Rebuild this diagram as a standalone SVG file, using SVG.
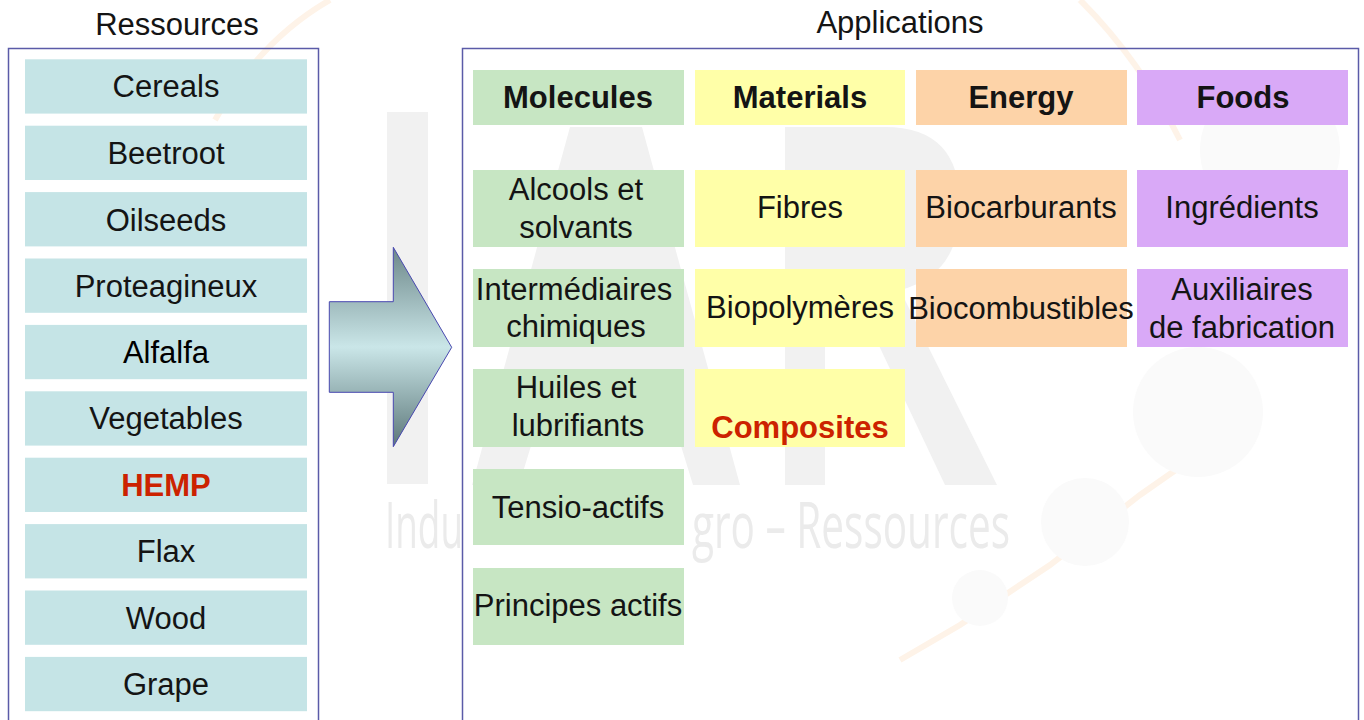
<svg xmlns="http://www.w3.org/2000/svg" width="1364" height="720" viewBox="0 0 1364 720">
<defs>
<linearGradient id="arrowGrad" gradientUnits="userSpaceOnUse" x1="0" y1="247" x2="0" y2="447">
<stop offset="0" stop-color="#6c8789"/>
<stop offset="0.5" stop-color="#cae6e8"/>
<stop offset="1" stop-color="#5c7779"/>
</linearGradient>
<style>
.t{font-family:"Liberation Sans",Arial,sans-serif;fill:#141414;text-anchor:middle;font-size:31px}
.b{font-weight:bold}
.red{fill:#cc2200}
.res{fill:#c5e4e6}
.mol{fill:#c7e6c3}
.mat{fill:#ffffa8}
.ene{fill:#fdd3a8}
.foo{fill:#d9a9f7}
.frame{fill:none;stroke:#5b5ba8;stroke-width:1.5}
.wm{fill:#f1f1f1}
.wt{font-family:"Open Sans","DejaVu Sans",sans-serif;font-size:64px;fill:#ebebeb}
.orl{fill:none;stroke:#fef3e8;stroke-width:6}
.gc{fill:#fafafa}
</style>
</defs>
<rect width="1364" height="720" fill="#ffffff"/>

<g id="watermark">
<path class="orl" d="M215 120 Q260 40 330 0"/>
<path class="orl" d="M1080 0 Q1140 60 1180 140"/>
<path class="orl" d="M900 660 L960 625 L1050 565 L1140 495 L1190 460"/>
<circle class="gc" cx="1085" cy="522" r="44"/>
<circle class="gc" cx="980" cy="598" r="28"/>
<circle class="gc" cx="1270" cy="150" r="70"/>
<circle class="gc" cx="1198" cy="412" r="65"/>
<rect class="wm" x="387" y="112" width="41" height="372"/>
<polygon class="wm" points="570,127 642,127 740,485 693,485 670,410 542,410 519,485 472,485"/>
<path class="wm" d="M785 127 L885 127 Q960 127 960 205 Q960 275 900 290 L997 485 L945 485 L855 295 L825 295 L825 485 L785 485 Z"/>
<text class="wt" transform="translate(385 548) scale(0.6 1)" x="0" y="0" textLength="130" lengthAdjust="spacingAndGlyphs">Indu</text>
<text class="wt" transform="translate(692 548) scale(0.6 1)" x="0" y="0" textLength="530" lengthAdjust="spacingAndGlyphs">gro – Ressources</text>
</g>

<g id="titles">
<text class="t" x="177" y="35" font-size="33">Ressources</text>
<text class="t" x="900" y="33" font-size="33">Applications</text>
</g>

<g id="ressources-frame"><rect class="frame" x="8.5" y="48.5" width="310" height="690"/></g>
<g id="applications-frame"><rect class="frame" x="462.5" y="48.5" width="896" height="690"/></g>

<g id="res-cereals"><rect class="res" x="25" y="59.3" width="282" height="54.3"/><text class="t" x="166" y="97.3">Cereals</text></g>
<g id="res-beetroot"><rect class="res" x="25" y="125.7" width="282" height="54.3"/><text class="t" x="166" y="163.7">Beetroot</text></g>
<g id="res-oilseeds"><rect class="res" x="25" y="192.1" width="282" height="54.3"/><text class="t" x="166" y="231" font-size="33.5">Oilseeds</text></g>
<g id="res-proteagineux"><rect class="res" x="25" y="258.5" width="282" height="54.3"/><text class="t" x="166" y="296.5">Proteagineux</text></g>
<g id="res-alfalfa"><rect class="res" x="25" y="324.9" width="282" height="54.3"/><text class="t" x="166" y="362.9" style="fill:#000">Alfalfa</text></g>
<g id="res-vegetables"><rect class="res" x="25" y="391.3" width="282" height="54.3"/><text class="t" x="166" y="429.3">Vegetables</text></g>
<g id="res-hemp"><rect class="res" x="25" y="457.7" width="282" height="54.3"/><text class="t b red" x="166" y="495.7">HEMP</text></g>
<g id="res-flax"><rect class="res" x="25" y="524.1" width="282" height="54.3"/><text class="t" x="166" y="562.1">Flax</text></g>
<g id="res-wood"><rect class="res" x="25" y="590.5" width="282" height="54.3"/><text class="t" x="166" y="628.5">Wood</text></g>
<g id="res-grape"><rect class="res" x="25" y="656.9" width="282" height="54.3"/><text class="t" x="166" y="694.9">Grape</text></g>

<g id="connectors">
<polygon points="329.3,301.7 393.3,301.7 393.3,247.3 451.7,347.3 393.3,446.7 393.3,392.3 329.3,392.3" fill="url(#arrowGrad)" stroke="#4848b0" stroke-width="1"/>
</g>

<g id="hdr-molecules"><rect class="mol" x="473" y="70" width="211" height="55"/><text class="t b" x="578" y="108">Molecules</text></g>
<g id="hdr-materials"><rect class="mat" x="695" y="70" width="210" height="55"/><text class="t b" x="800" y="108">Materials</text></g>
<g id="hdr-energy"><rect class="ene" x="916" y="70" width="211" height="55"/><text class="t b" x="1021" y="108">Energy</text></g>
<g id="hdr-foods"><rect class="foo" x="1137" y="70" width="211" height="55"/><text class="t b" x="1243" y="108">Foods</text></g>

<g id="mol-alcools"><rect class="mol" x="473" y="170" width="211" height="77"/><text class="t" x="576" y="200">Alcools et</text><text class="t" x="576" y="238">solvants</text></g>
<g id="mol-intermediaires"><rect class="mol" x="473" y="269" width="211" height="78"/><text class="t" x="574" y="300">Intermédiaires</text><text class="t" x="576" y="337">chimiques</text></g>
<g id="mol-huiles"><rect class="mol" x="473" y="369" width="211" height="78"/><text class="t" x="576" y="398">Huiles et</text><text class="t" x="578" y="436">lubrifiants</text></g>
<g id="mol-tensio"><rect class="mol" x="473" y="469" width="211" height="76"/><text class="t" x="578" y="518">Tensio-actifs</text></g>
<g id="mol-principes"><rect class="mol" x="473" y="568" width="211" height="77"/><text class="t" x="578" y="616">Principes actifs</text></g>

<g id="mat-fibres"><rect class="mat" x="695" y="170" width="210" height="77"/><text class="t" x="800" y="218">Fibres</text></g>
<g id="mat-biopolymeres"><rect class="mat" x="695" y="269" width="210" height="78"/><text class="t" x="800" y="318">Biopolymères</text></g>
<g id="mat-composites"><rect class="mat" x="695" y="369" width="210" height="78"/><text class="t b red" x="800" y="438" font-size="34">Composites</text></g>

<g id="ene-biocarburants"><rect class="ene" x="916" y="170" width="211" height="77"/><text class="t" x="1021" y="218">Biocarburants</text></g>
<g id="ene-biocombustibles"><rect class="ene" x="916" y="269" width="211" height="78"/><text class="t" x="1021" y="319">Biocombustibles</text></g>

<g id="foo-ingredients"><rect class="foo" x="1137" y="170" width="211" height="77"/><text class="t" x="1242" y="218">Ingrédients</text></g>
<g id="foo-auxiliaires"><rect class="foo" x="1137" y="269" width="211" height="78"/><text class="t" x="1242" y="300">Auxiliaires</text><text class="t" x="1242" y="338">de fabrication</text></g>
</svg>
